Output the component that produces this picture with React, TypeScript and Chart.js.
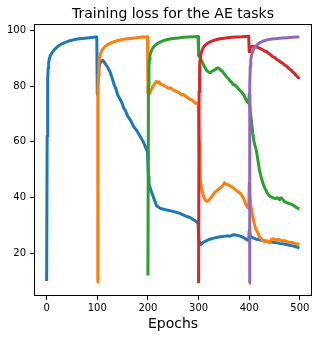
import { useEffect, useRef } from "react";
import { Chart, registerables } from "chart.js";

Chart.register(...registerables);

const chartTitle = "Training loss for the AE tasks";
const xAxisLabel = "Epochs";
const xTickValues = [0, 100, 200, 300, 400, 500];
const yTickValues = [20, 40, 60, 80, 100];
const seriesNames = ["Task 1", "Task 2", "Task 3", "Task 4", "Task 5"];
const seriesColors = ["#1f77b4", "#ff7f0e", "#2ca02c", "#d62728", "#9467bd"];

// Task 1 (blue)
const blueEpochs = [
  0, 1, 2, 3, 4, 5, 7, 10, 14, 18, 24, 30, 38, 46, 55, 65, 75, 85, 92, 99,
  100, 101, 102, 103, 105, 108, 111, 114, 118, 122, 126, 130, 133, 136, 140, 144, 148, 152, 156, 160, 166, 172, 178, 185, 190, 194, 197, 199,
  200, 201, 202, 205, 210, 217, 225, 237, 250, 263, 275, 283, 290, 296, 299,
  300, 301, 302, 304, 306, 310, 316, 322, 330, 340, 348, 355, 362, 368, 375, 381, 388, 394, 399,
  400, 401, 403, 406, 410, 414, 420, 427, 434, 440, 447, 454, 460, 466, 473, 480, 486, 492, 499,
];
const blueLoss = [
  10, 62, 82, 86.5, 88.3, 89.5, 90.8, 91.8, 92.8, 93.6, 94.5, 95.2, 95.8, 96.3, 96.7, 97, 97.2, 97.4, 97.5, 97.6,
  77, 80, 83.5, 86, 88, 89, 89.2, 88.5, 87.4, 86.3, 84.8, 82.5, 80.6, 79.4, 77, 75.6, 74.3, 72.2, 71, 69.2, 67.6, 65.4, 64, 61.8, 60.3, 58.6, 57.2, 56.5,
  52, 47.5, 45, 43, 40.5, 37, 36, 35.5, 35, 34.3, 33.3, 32.8, 32, 31.3, 30.6,
  27, 24, 23.2, 23, 23.3, 24, 24.5, 25, 25.4, 25.8, 26, 26.2, 26.1, 26.6, 26.4, 26.2, 25.7, 25, 24.5,
  28, 27, 26, 25.6, 25.3, 25, 24.8, 24.5, 24.3, 24.2, 23.9, 23.7, 23.5, 23.4, 23.1, 22.8, 22.6, 22.3, 21.8,
];

// Task 2 (orange)
const orangeEpochs = [
  100, 101, 102, 103, 104, 106, 109, 114, 120, 128, 136, 145, 155, 165, 175, 185, 192, 199,
  200, 202, 204, 207, 210, 214, 217, 220, 222, 225, 229, 233, 237, 241, 245, 250, 254, 258, 262, 266, 270, 274, 278, 283, 288, 293, 296, 299,
  300, 301, 302, 303, 305, 308, 312, 316, 320, 324, 328, 332, 336, 340, 344, 348, 351, 354, 358, 362, 366, 370, 374, 378, 381, 386, 390, 394, 397, 399,
  400, 401, 402, 404, 407, 410, 413, 417, 420, 424, 427, 432, 436, 440, 444, 448, 452, 456, 460, 465, 470, 475, 480, 485, 490, 495, 499,
];
const orangeLoss = [
  9.5, 76.5, 84, 88, 90, 91.5, 92.8, 94, 94.9, 95.6, 96.1, 96.6, 96.9, 97.1, 97.3, 97.5, 97.6, 97.7,
  77.5, 77, 77.5, 79, 80, 81, 81.7, 81.2, 81.5, 80.7, 80.5, 80, 79.6, 79.2, 79.4, 78.5, 78.3, 77.9, 77.6, 76.8, 77, 76.4, 75.9, 75.2, 74.9, 73.9, 74, 73.5,
  70, 60, 52, 47, 44, 41.5, 39.3, 38.6, 39, 39.8, 40.8, 41.8, 42.5, 43, 43.6, 44.4, 45.3, 44.8, 44.6, 44.2, 43.8, 43.2, 42.6, 42, 41.7, 40.5, 39.2, 37.2, 36.4, 36,
  45, 42, 39, 36, 33.3, 30.5, 28.6, 27.4, 25.8, 25, 24.4, 24.1, 24.4, 23.8, 25, 25.2, 24.6, 24.9, 24.8, 24.4, 24.5, 24.1, 23.9, 23.8, 23.5, 23.3, 23.1,
];

// Task 3 (green)
const greenEpochs = [
  200, 201, 202, 203, 204, 206, 209, 213, 218, 225, 232, 240, 250, 260, 270, 280, 290, 299,
  300, 302, 305, 308, 311, 314, 317, 320, 323, 326, 329, 332, 335, 338, 341, 344, 347, 350, 353, 356, 359, 362, 365, 368, 371, 374, 377, 380, 383, 386, 389, 392, 395, 399,
  400, 401, 402, 404, 407, 410, 414, 417, 420, 424, 428, 432, 436, 440, 444, 448, 452, 456, 460, 463, 466, 470, 474, 478, 482, 486, 490, 494, 499,
];
const greenLoss = [
  12, 80, 87, 89.5, 91, 92.3, 93.5, 94.4, 95.2, 95.9, 96.4, 96.8, 97.1, 97.3, 97.5, 97.6, 97.7, 97.8,
  91, 90.5, 89.5, 88.3, 87.2, 86.2, 85.4, 85, 84.8, 85.3, 85.6, 85.8, 86.3, 86.6, 86.2, 85.7, 85.3, 84.6, 83.8, 83.2, 82.6, 81.9, 81.4, 80.6, 80.4, 80, 79.4, 78.8, 78.2, 77.6, 76.9, 75.8, 74.6, 73.8,
  77, 74, 71, 68, 63, 59.5, 57, 53.5, 50, 47, 44.5, 43, 41.5, 40.5, 40.1, 39.8, 39.6, 39.9, 39.2, 39.9, 39.3, 38.4, 38.1, 37.9, 37.6, 37.3, 36.8, 36.3, 35.8,
];

// Task 4 (red)
const redEpochs = [
  300, 301, 302, 303, 304, 306, 309, 313, 318, 324, 330, 338, 346, 355, 365, 375, 385, 392, 399,
  400, 401, 403, 406, 410, 414, 418, 422, 426, 430, 434, 438, 442, 446, 450, 454, 458, 462, 466, 470, 474, 479, 483, 486, 489, 492, 495, 499,
];
const redLoss = [
  9.2, 78, 87, 89.5, 91, 92.4, 93.7, 94.7, 95.4, 96, 96.4, 96.8, 97.1, 97.3, 97.5, 97.6, 97.7, 97.8, 97.9,
  92.3, 93.2, 94, 94.3, 94.2, 94, 93.8, 93.5, 93.1, 92.6, 92.4, 91.8, 91.3, 90.6, 90.3, 89.6, 89.2, 88.6, 88.2, 87.6, 87.1, 86.2, 85.7, 85, 84.6, 83.9, 83.4, 82.6,
];

// Task 5 (purple)
const purpleEpochs = [400, 401, 402, 403, 405, 407, 410, 414, 420, 427, 435, 445, 455, 465, 475, 485, 492, 499];
const purpleLoss = [9.2, 80, 87, 89.5, 91.3, 92.6, 93.7, 94.6, 95.5, 96.1, 96.6, 96.9, 97.1, 97.3, 97.4, 97.5, 97.6, 97.6];

const allEpochs = [blueEpochs, orangeEpochs, greenEpochs, redEpochs, purpleEpochs];
const allLoss = [blueLoss, orangeLoss, greenLoss, redLoss, purpleLoss];

const framePlugin = {
  id: "frameAndTitle",
  afterDraw(chart: any) {
    const { ctx, chartArea: a } = chart;
    ctx.save();
    ctx.strokeStyle = "#000";
    ctx.lineWidth = 1;
    ctx.strokeRect(
      Math.round(a.left) + 0.5,
      Math.round(a.top) + 0.5,
      Math.round(a.right - a.left) - 1,
      Math.round(a.bottom - a.top) - 1
    );
    ctx.fillStyle = "#000";
    ctx.font = '14px "DejaVu Sans"';
    ctx.textAlign = "center";
    ctx.textBaseline = "alphabetic";
    ctx.fillText(chartTitle, (a.left + a.right) / 2, a.top - 6);
    ctx.restore();
  },
};

export default function App() {
  const canvasRef = useRef<HTMLCanvasElement | null>(null);

  useEffect(() => {
    document.body.style.margin = "0";
    const canvas = canvasRef.current;
    if (!canvas) return;
    Chart.defaults.font.family = '"DejaVu Sans", sans-serif';

    const datasets = allEpochs.map((eps, k) => ({
      label: seriesNames[k],
      data: eps.map((e, i) => ({ x: e, y: allLoss[k][i] })),
      borderColor: seriesColors[k],
      backgroundColor: seriesColors[k],
      borderWidth: 3,
      pointRadius: 0,
      tension: 0,
      fill: false,
      borderJoinStyle: "round" as const,
      order: 4 - k,
    }));

    const chart = new Chart(canvas, {
      type: "line",
      data: { datasets },
      plugins: [framePlugin],
      options: {
        animation: false,
        responsive: true,
        maintainAspectRatio: false,
        layout: { padding: { top: 24, right: 10, bottom: 0, left: 0 } },
        plugins: {
          legend: { display: false },
          tooltip: { enabled: false },
          title: { display: false },
        },
        scales: {
          x: {
            type: "linear",
            min: -24.95,
            max: 523.95,
            afterBuildTicks: (scale: any) => {
              scale.ticks = xTickValues.map((v) => ({ value: v }));
            },
            afterFit: (scale: any) => {
              scale.height = 42;
            },
            grid: { display: true, drawOnChartArea: false, drawTicks: true, tickLength: 4, color: "#000", lineWidth: 1 },
            border: { display: false },
            ticks: { font: { size: 10 }, color: "#000", padding: 2, maxRotation: 0, autoSkip: false },
            title: { display: true, text: xAxisLabel, font: { size: 14 }, color: "#000", padding: { top: 0, bottom: 5 } },
          },
          y: {
            type: "linear",
            min: 4.6,
            max: 102.3,
            afterBuildTicks: (scale: any) => {
              scale.ticks = yTickValues.map((v) => ({ value: v }));
            },
            afterFit: (scale: any) => {
              scale.width = 34;
            },
            grid: { display: true, drawOnChartArea: false, drawTicks: true, tickLength: 4, color: "#000", lineWidth: 1 },
            border: { display: false },
            ticks: { font: { size: 10 }, color: "#000", padding: 4, autoSkip: false },
          },
        },
      },
    });
    return () => chart.destroy();
  }, []);

  return (
    <div style={{ position: "absolute", left: 0, top: 0, width: 322, height: 338 }}>
      <canvas ref={canvasRef} />
    </div>
  );
}
